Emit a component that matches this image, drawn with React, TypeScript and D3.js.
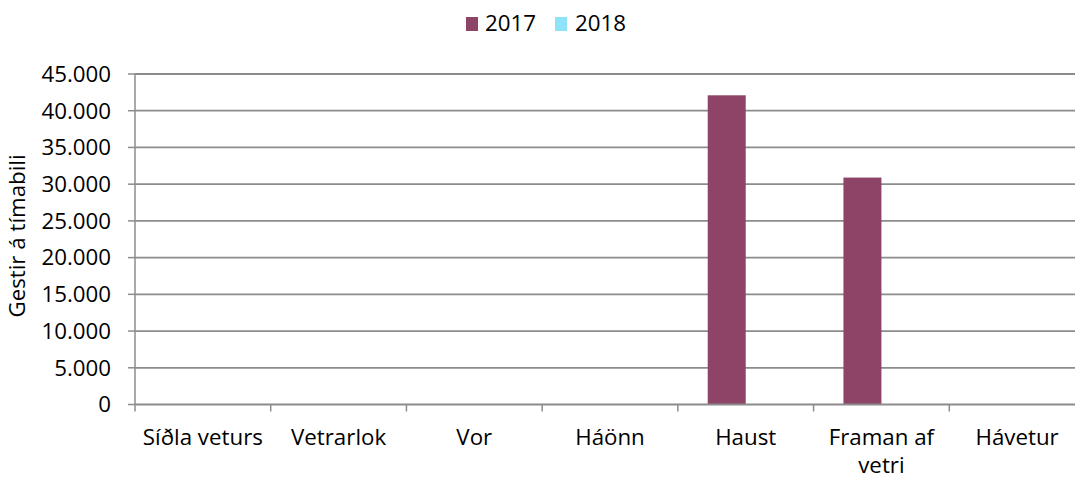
import React from "react";
import * as d3 from "d3";

const categories: string[][] = [["Síðla veturs"], ["Vetrarlok"], ["Vor"], ["Háönn"], ["Haust"], ["Framan af", "vetri"], ["Hávetur"]];
const seriesNames = ["2017", "2018"];
const values2017: (number | null)[] = [null, null, null, null, 42100, 30900, null];
const values2018: (number | null)[] = [null, null, null, null, null, null, null];
const yTicks = [0, 5000, 10000, 15000, 20000, 25000, 30000, 35000, 40000, 45000];
const colors = ["#8E4466", "#8EE3F8"];

const W = 1075, H = 480;
const left = 135, right = 1085, top = 74, bottom = 404.5;
const FONT = "'Open Sans', sans-serif";
const FS = 22.3;

export default function App() {
  const x = d3.scaleBand<number>().domain(categories.map((_, i) => i)).range([left, right]).padding(0);
  const inner = d3.scaleBand<string>().domain(seriesNames).range([0, x.bandwidth()]).paddingInner(0).paddingOuter(0.786);
  const y = d3.scaleLinear().domain([0, 45000]).range([bottom, top]);
  const fmt = (v: number) => d3.format(",")(v).replace(/,/g, ".");
  const series = [values2017, values2018];
  const ticksX = d3.range(categories.length + 1).map(i => left + i * x.step());

  return (
    <svg width={W} height={H} style={{ position: "absolute", left: 0, top: 0, background: "#fff" }} fontFamily={FONT}>
      {/* legend */}
      <g>
        <rect x={466} y={17} width={12} height={14} fill={colors[0]} />
        <text x={485} y={31} fontSize={FS} fill="#000">{seriesNames[0]}</text>
        <rect x={555} y={17} width={12} height={14} fill={colors[1]} />
        <text x={575} y={31} fontSize={FS} fill="#000">{seriesNames[1]}</text>
      </g>
      {/* gridlines */}
      {yTicks.map(t => (
        <g key={t}>
          {t > 0 && <line x1={left} x2={right} y1={y(t)} y2={y(t)} stroke="#8c8c8c" strokeWidth={1.8} />}
          <line x1={128} x2={left} y1={y(t)} y2={y(t)} stroke="#8c8c8c" strokeWidth={1.5} />
          <text x={111} y={y(t)} dy="0.35em" textAnchor="end" fontSize={FS} fill="#000">{fmt(t)}</text>
        </g>
      ))}
      {/* bars */}
      {series.map((vals, si) =>
        vals.map((v, ci) =>
          v == null ? null : (
            <rect key={`${si}-${ci}`} x={(x(ci) as number) + (inner(seriesNames[si]) as number)} y={y(v)}
              width={inner.bandwidth()} height={y(0) - y(v)} fill={colors[si]} />
          )
        )
      )}
      {/* axes */}
      <line x1={left} x2={left} y1={top} y2={bottom} stroke="#8c8c8c" strokeWidth={1.5} />
      <line x1={left} x2={right} y1={bottom} y2={bottom} stroke="#8c8c8c" strokeWidth={1.8} />
      {ticksX.map((tx, i) => (
        <line key={i} x1={tx} x2={tx} y1={bottom} y2={bottom + 7} stroke="#8c8c8c" strokeWidth={1.5} />
      ))}
      {categories.map((lines, i) =>
        lines.map((l, j) => (
          <text key={`${i}-${j}`} x={(x(i) as number) + x.bandwidth() / 2} y={445 + j * 28} textAnchor="middle" fontSize={FS} fill="#000">{l}</text>
        ))
      )}
      <text transform={`translate(25,236) rotate(-90)`} textAnchor="middle" fontSize={FS} fill="#000">Gestir á tímabili</text>
    </svg>
  );
}
